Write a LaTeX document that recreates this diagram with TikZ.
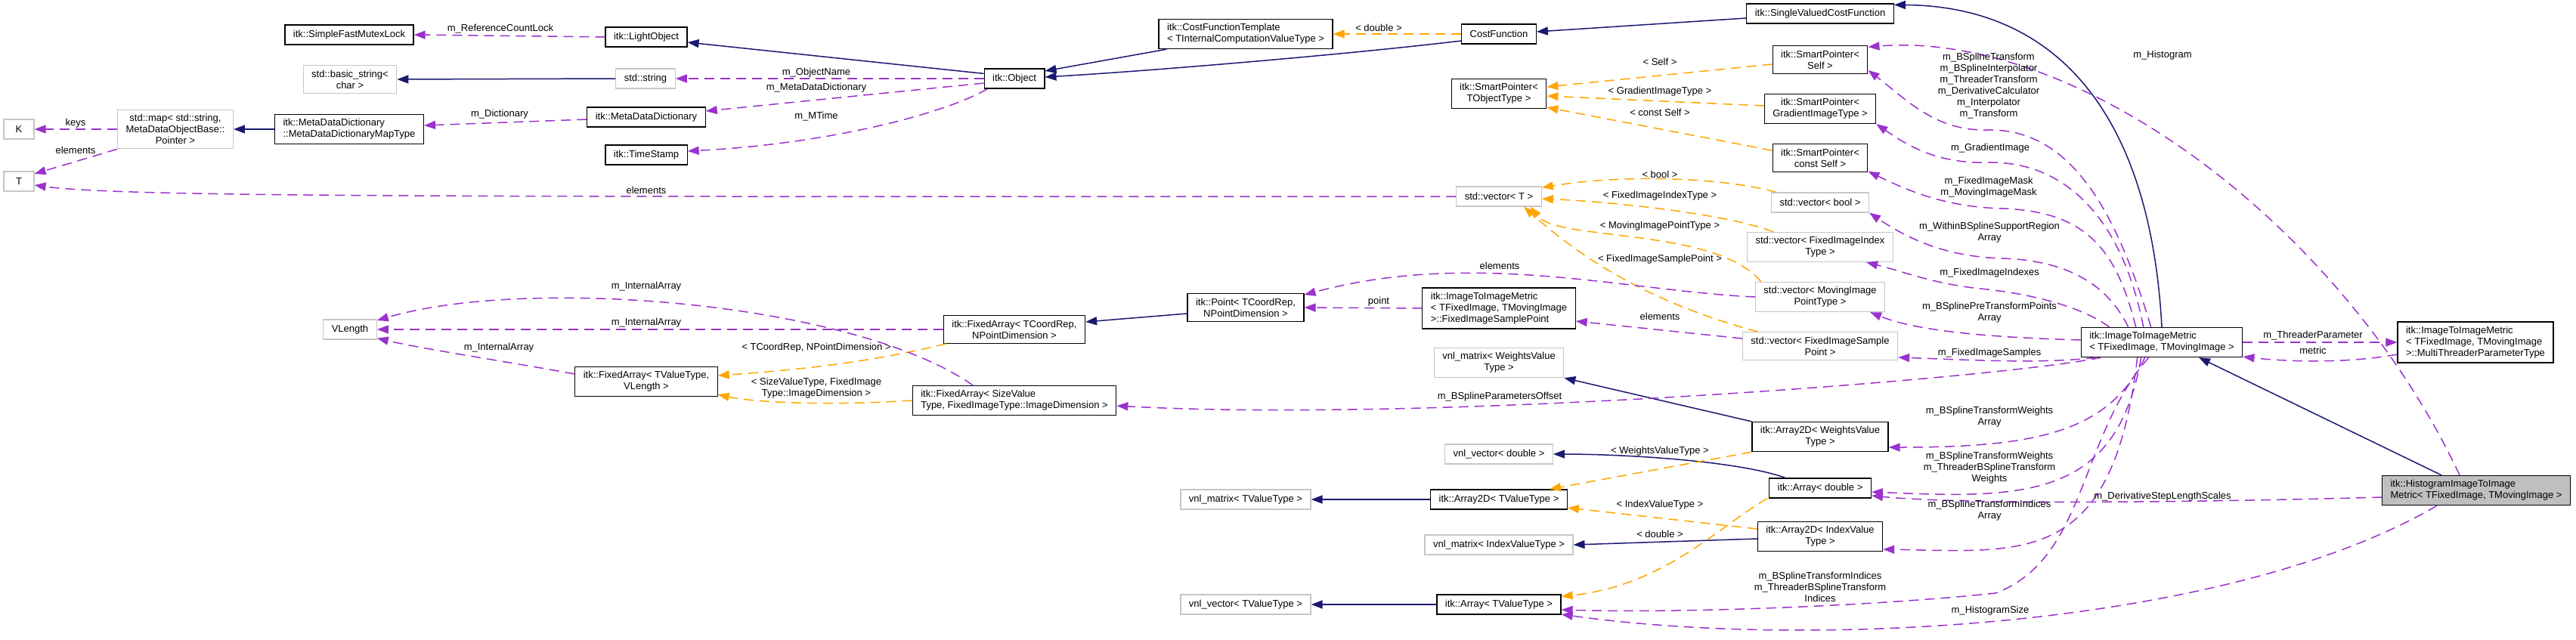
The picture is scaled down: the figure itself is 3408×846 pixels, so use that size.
\documentclass[tikz,border=0pt]{standalone}
\usepackage{fontspec}
\setmainfont{Liberation Sans}
\usetikzlibrary{arrows.meta}
\definecolor{edgenavy}{HTML}{191970}
\definecolor{edgepurple}{HTML}{9A32CD}
\definecolor{edgeorange}{HTML}{FFA500}
\tikzset{
    cls/.style = {draw, rectangle, line width=1.2pt, fill=white, inner xsep=11pt, inner ysep=6pt, minimum height=26pt, align=center, font=\fontsize{13}{15}\selectfont},
    extcls/.style = {cls, draw=gray!45},
    focuscls/.style = {cls, fill=gray!50},
    lbl/.style = {inner sep=0pt, align=center, font=\fontsize{13}{15}\selectfont},
    inherit/.style = {draw=edgenavy, line width=1.5pt, -{Triangle[length=15pt, width=11pt]}},
    member/.style = {draw=edgepurple, line width=1.5pt, dash pattern=on 13pt off 8pt, -{Triangle[length=15pt, width=11pt]}},
    tmplinst/.style = {draw=edgeorange, line width=1.5pt, dash pattern=on 13pt off 8pt, -{Triangle[length=15pt, width=11pt]}}
}

\begin{document}
\begin{tikzpicture}[x=1pt, y=-1pt]
    \useasboundingbox (0,0) rectangle (3408,846);

    % Left columns
    \node[cls] (mutexlock) at (462,46) {itk::SimpleFastMutexLock};
    \node[extcls] (basicstr) at (463,105) {std::basic\_string\textless\\char >};
    \node[extcls, minimum width=40pt, inner xsep=0pt] (keyK) at (25,171) {K};
    \node[extcls] (stdmap) at (232,171) {std::map< std::string,\\MetaDataObjectBase::\\Pointer >};
    \node[cls, align=left] (maptype) at (462,171) {itk::MetaDataDictionary\\::MetaDataDictionaryMapType};
    \node[extcls, minimum width=40pt, inner xsep=0pt] (keyT) at (25,240) {T};
    \node[extcls] (vlength) at (463,436) {VLength};

    \node[cls] (lightobj) at (855,49) {itk::LightObject};
    \node[extcls] (stdstr) at (854,104) {std::string};
    \node[cls] (metadict) at (855,155) {itk::MetaDataDictionary};
    \node[cls] (timestamp) at (855,205) {itk::TimeStamp};
    \node[cls] (fatpl) at (855,505) {itk::FixedArray< TValueType,\\VLength >};

    % Middle columns
    \node[cls] (itkobj) at (1342,104) {itk::Object};
    \node[cls] (facoord) at (1342,436) {itk::FixedArray< TCoordRep,\\NPointDimension >};
    \node[cls, align=left] (fasize) at (1342,530) {itk::FixedArray< SizeValue\\Type, FixedImageType::ImageDimension >};

    \node[cls, align=left] (costtpl) at (1648,45) {itk::CostFunctionTemplate\\< TInternalComputationValueType >};
    \node[cls] (point) at (1648,407) {itk::Point< TCoordRep,\\NPointDimension >};
    \node[extcls] (vnlmt) at (1648,661) {vnl\_matrix< TValueType >};
    \node[extcls] (vnlvt) at (1648,800) {vnl\_vector< TValueType >};

    \node[cls] (costfn) at (1983,45) {CostFunction};
    \node[cls] (sptpl) at (1983,124) {itk::SmartPointer\textless\\TObjectType >};
    \node[extcls] (vectpl) at (1983,260) {std::vector< T >};
    \node[cls, align=left] (smppt) at (1983,408) {itk::ImageToImageMetric\\< TFixedImage, TMovingImage\\ >::FixedImageSamplePoint};
    \node[extcls] (vnlmw) at (1983,480) {vnl\_matrix< WeightsValue\\Type >};
    \node[extcls] (vnlvd) at (1983,601) {vnl\_vector< double >};
    \node[cls] (a2dtpl) at (1983,661) {itk::Array2D< TValueType >};
    \node[extcls] (vnlmi) at (1983,721) {vnl\_matrix< IndexValueType >};
    \node[cls] (arrtpl) at (1983,800) {itk::Array< TValueType >};

    % Right columns
    \node[cls] (svcf) at (2408,18) {itk::SingleValuedCostFunction};
    \node[cls] (spself) at (2408,79) {itk::SmartPointer\textless\\Self >};
    \node[cls] (spgrad) at (2408,144) {itk::SmartPointer\textless\\GradientImageType >};
    \node[cls] (spconst) at (2408,209) {itk::SmartPointer\textless\\const Self >};
    \node[extcls] (vecbool) at (2408,268) {std::vector< bool >};
    \node[extcls] (vecidx) at (2408,327) {std::vector< FixedImageIndex\\Type >};
    \node[extcls] (vecpt) at (2408,393) {std::vector< MovingImage\\PointType >};
    \node[extcls] (vecsmp) at (2408,458) {std::vector< FixedImageSample\\Point >};
    \node[cls] (a2dw) at (2408,578) {itk::Array2D< WeightsValue\\Type >};
    \node[cls] (arrd) at (2408,646) {itk::Array< double >};
    \node[cls] (a2di) at (2408,710) {itk::Array2D< IndexValue\\Type >};

    \node[cls, align=left] (iim) at (2860,453) {itk::ImageToImageMetric\\< TFixedImage, TMovingImage >};
    \node[cls, align=left] (mtpt) at (3275,453) {itk::ImageToImageMetric\\< TFixedImage, TMovingImage\\ >::MultiThreaderParameterType};
    \node[focuscls, align=left] (histo) at (3276,649) {itk::HistogramImageToImage\\Metric< TFixedImage, TMovingImage >};

    % Inheritance
    \draw[inherit] ([yshift=-7pt]itkobj.north west) -- ([yshift=-7pt]lightobj.east);
    \draw[inherit] (stdstr.west) -- (basicstr.east);
    \draw[inherit] (maptype.west) -- (stdmap.east);
    \draw[inherit] ([xshift=11pt]costtpl.south west) -- ([yshift=10pt]itkobj.east);
    \draw[inherit] ([yshift=-9pt]costfn.west) .. controls (1800,70) and (1550,92) .. ([yshift=2pt]itkobj.east);
    \draw[inherit] ([yshift=-6pt]svcf.west) -- ([yshift=3pt]costfn.east);
    \draw[inherit] (iim.north) .. controls (2845,150) and (2720,8) .. ([yshift=-2pt]svcf.north east);
    \draw[inherit] ([xshift=-46pt]histo.north) -- ([xshift=49pt]iim.south);
    \draw[inherit] ([yshift=-8pt]point.west) -- ([yshift=10pt]facoord.east);
    \draw[inherit] (a2dw.north west) -- (vnlmw.south east);
    \draw[inherit] ([xshift=-46pt]arrd.north) .. controls (2300,610) and (2150,601) .. (vnlvd.east);
    \draw[inherit] (a2dtpl.west) -- (vnlmt.east);
    \draw[inherit] ([yshift=-3pt]a2di.west) -- (vnlmi.east);
    \draw[inherit] (arrtpl.west) -- (vnlvt.east);

    % Template instances
    \draw[tmplinst] (costfn.west) -- (costtpl.east);
    \draw[tmplinst] ([yshift=-6pt]spself.west) -- ([yshift=9pt]sptpl.east);
    \draw[tmplinst] ([yshift=4pt]spgrad.west) -- ([yshift=-3pt]sptpl.east);
    \draw[tmplinst] ([yshift=-9pt]spconst.north west) -- ([yshift=2pt]sptpl.south east);
    \draw[tmplinst] ([xshift=7pt]vecbool.north west) .. controls (2280,235) and (2150,230) .. ([yshift=-2pt]vectpl.north east);
    \draw[tmplinst] ([xshift=35pt]vecidx.north west) .. controls (2290,285) and (2150,268) .. ([yshift=-3pt]vectpl.east);
    \draw[tmplinst] ([xshift=8pt]vecpt.north west) .. controls (2270,300) and (2060,320) .. ([xshift=42pt]vectpl.south);
    \draw[tmplinst] ([xshift=21pt]vecsmp.north west) .. controls (2180,400) and (2090,340) .. ([xshift=33pt]vectpl.south);
    \draw[tmplinst] ([xshift=4pt]facoord.south west) .. controls (1150,480) and (1050,490) .. ([yshift=8pt]fatpl.east);
    \draw[tmplinst] (fasize.west) .. controls (1100,537) and (1000,533) .. ([yshift=3pt]fatpl.south east);
    \draw[tmplinst] (a2dw.south west) -- ([xshift=-24pt]a2dtpl.north east);
    \draw[tmplinst] ([yshift=10pt]a2di.west) -- ([yshift=-11pt]a2dtpl.east);
    \draw[tmplinst] ([xshift=-2pt]arrd.south west) .. controls (2270,700) and (2200,775) .. ([yshift=-3pt]arrtpl.north east);

    % Members
    \draw[member] (lightobj.west) -- (mutexlock.east);
    \draw[member] (itkobj.west) -- (stdstr.east);
    \draw[member] ([yshift=-6pt]itkobj.west) -- ([yshift=8pt]metadict.east);
    \draw[member] ([xshift=5pt]itkobj.south west) .. controls (1250,150) and (1100,190) .. ([yshift=5pt]timestamp.east);
    \draw[member] ([yshift=-3pt]metadict.west) -- ([yshift=5pt]maptype.east);
    \draw[member] (stdmap.west) -- (keyK.east);
    \draw[member] (stdmap.south west) -- ([yshift=10pt]keyT.east);
    \draw[member] (vectpl.west) .. controls (700,260) and (170,262) .. ([yshift=-5pt]keyT.east);
    \draw[member] ([xshift=-55pt]fasize.north) .. controls (1130,400) and (700,365) .. ([yshift=12pt]vlength.east);
    \draw[member] (facoord.west) -- (vlength.east);
    \draw[member] ([yshift=10pt]fatpl.west) .. controls (680,480) and (560,462) .. ([yshift=2pt]vlength.south east);
    \draw[member] (smppt.west) -- (point.east);
    \draw[member] (vecpt.west) .. controls (2150,385) and (1950,330) .. ([yshift=-2pt]point.north east);
    \draw[member] ([yshift=10pt]vecsmp.west) -- ([yshift=-17pt]smppt.east);
    \draw[member] (iim.east) -- (mtpt.west);
    \draw[member] ([yshift=-16pt]mtpt.west) .. controls (3100,482) and (3020,478) .. ([yshift=1pt]iim.south east);

    % Members of the metric, fanning out of its top and bottom
    \draw[member] ([xshift=93pt]iim.north west) .. controls (2800,280) and (2740,170) .. (2630,172) .. controls (2560,174) and (2520,130) .. ([yshift=5pt]spself.south east);
    \draw[member] ([xshift=83pt]iim.north west) .. controls (2810,300) and (2740,213) .. (2630,215) .. controls (2560,217) and (2520,190) .. (spgrad.south east);
    \draw[member] ([xshift=73pt]iim.north west) .. controls (2800,330) and (2760,280) .. (2650,276) .. controls (2570,274) and (2520,250) .. ([yshift=1pt]spconst.south east);
    \draw[member] ([xshift=63pt]iim.north west) .. controls (2790,380) and (2740,345) .. (2650,342) .. controls (2580,340) and (2530,320) .. (vecbool.south east);
    \draw[member] ([xshift=38pt]iim.north west) .. controls (2760,410) and (2700,390) .. (2620,382) .. controls (2560,376) and (2520,360) .. ([xshift=-36pt]vecidx.south east);
    \draw[member] ([yshift=3pt]iim.west) .. controls (2650,447) and (2540,440) .. ([xshift=-20pt]vecpt.south east);
    \draw[member] ([xshift=20pt]iim.south west) .. controls (2700,482) and (2600,476) .. ([yshift=-15pt]vecsmp.east);
    \draw[member] ([xshift=27pt]iim.south west) .. controls (2650,500) and (1900,560) .. ([yshift=-7pt]fasize.east);
    \draw[member] ([xshift=85pt]iim.south west) .. controls (2790,570) and (2700,592) .. ([yshift=-14pt]a2dw.east);
    \draw[member] ([xshift=80pt]iim.south west) .. controls (2800,660) and (2680,660) .. ([yshift=-5pt]arrd.east);
    \draw[member] ([xshift=75pt]iim.south west) .. controls (2795,750) and (2680,730) .. ([yshift=-17pt]a2di.east);
    \draw[member] ([xshift=90pt]iim.south west) .. controls (2750,580) and (2760,740) .. (2640,785) .. controls (2500,800) and (2250,812) .. ([yshift=-7pt]arrtpl.east);

    % Members of the histogram metric
    \draw[member] ([xshift=-22pt]histo.north) .. controls (3100,300) and (2750,40) .. ([yshift=-2pt]spself.north east);
    \draw[member] ([yshift=-9pt]histo.west) .. controls (2900,665) and (2600,668) .. ([yshift=-10pt]arrd.east);
    \draw[member] ([xshift=-52pt]histo.south) .. controls (2950,830) and (2400,860) .. ([yshift=-13pt]arrtpl.east);

    % Edge labels
    \node[lbl] (lbRefLock) at (662,38) {m\_ReferenceCountLock};
    \node[lbl] (lbObjName) at (1080,96) {m\_ObjectName};
    \node[lbl] (lbMetaDict) at (1080,116) {m\_MetaDataDictionary};
    \node[lbl] (lbMTime) at (1080,154) {m\_MTime};
    \node[lbl] (lbDict) at (661,151) {m\_Dictionary};
    \node[lbl] (lbKeys) at (100,163) {keys};
    \node[lbl] (lbElemMap) at (100,199) {elements};
    \node[lbl] (lbElemVec) at (855,252) {elements};
    \node[lbl] (lbDouble) at (1824,37) {< double >};
    \node[lbl] (lbSelf) at (2196,82) {< Self >};
    \node[lbl] (lbGrad) at (2196,121) {< GradientImageType >};
    \node[lbl] (lbConst) at (2196,149) {< const Self >};
    \node[lbl] (lbBool) at (2196,231) {< bool >};
    \node[lbl] (lbIdxT) at (2196,259) {< FixedImageIndexType >};
    \node[lbl] (lbMovPT) at (2196,299) {< MovingImagePointType >};
    \node[lbl] (lbSmpPT) at (2196,343) {< FixedImageSamplePoint >};
    \node[lbl] (lbElemPt) at (1984,352) {elements};
    \node[lbl] (lbPoint) at (1824,399) {point};
    \node[lbl] (lbElemSmp) at (2196,419) {elements};
    \node[lbl] (lbOffset) at (1984,525) {m\_BSplineParametersOffset};
    \node[lbl] (lbIntA) at (855,379) {m\_InternalArray};
    \node[lbl] (lbIntB) at (855,427) {m\_InternalArray};
    \node[lbl] (lbIntC) at (660,460) {m\_InternalArray};
    \node[lbl] (lbCoordRep) at (1080,460) {< TCoordRep, NPointDimension >};
    \node[lbl] (lbSizeVal) at (1080,514) {< SizeValueType, FixedImage\\Type::ImageDimension >};
    \node[lbl] (lbWeightsVT) at (2196,597) {< WeightsValueType >};
    \node[lbl] (lbIndexVT) at (2196,668) {< IndexValueType >};
    \node[lbl] (lbDoubleB) at (2196,707) {< double >};
    \node[lbl] (lbIdxThr) at (2408,777) {m\_BSplineTransformIndices\\m\_ThreaderBSplineTransform\\Indices};
    \node[lbl] (lbHistSize) at (2633,808) {m\_HistogramSize};
    \node[lbl] (lbStepScales) at (2861,657) {m\_DerivativeStepLengthScales};
    \node[lbl] (lbIdxArr) at (2632,676) {m\_BSplineTransformIndices\\Array};
    \node[lbl] (lbWgtThr) at (2632,619) {m\_BSplineTransformWeights\\m\_ThreaderBSplineTransform\\Weights};
    \node[lbl] (lbWgtArr) at (2632,552) {m\_BSplineTransformWeights\\Array};
    \node[lbl] (lbSamples) at (2632,467) {m\_FixedImageSamples};
    \node[lbl] (lbPreTr) at (2632,414) {m\_BSplinePreTransformPoints\\Array};
    \node[lbl] (lbIndexes) at (2632,361) {m\_FixedImageIndexes};
    \node[lbl] (lbWithin) at (2632,308) {m\_WithinBSplineSupportRegion\\Array};
    \node[lbl] (lbMasks) at (2631,248) {m\_FixedImageMask\\m\_MovingImageMask};
    \node[lbl] (lbGradImg) at (2633,196) {m\_GradientImage};
    \node[lbl] (lbTransforms) at (2631,114) {m\_BSplineTransform\\m\_BSplineInterpolator\\m\_ThreaderTransform\\m\_DerivativeCalculator\\m\_Interpolator\\m\_Transform};
    \node[lbl] (lbHist) at (2861,73) {m\_Histogram};
    \node[lbl] (lbThrParam) at (3060,444) {m\_ThreaderParameter};
    \node[lbl] (lbMetric) at (3060,464) {metric};

\end{tikzpicture}
\end{document}
